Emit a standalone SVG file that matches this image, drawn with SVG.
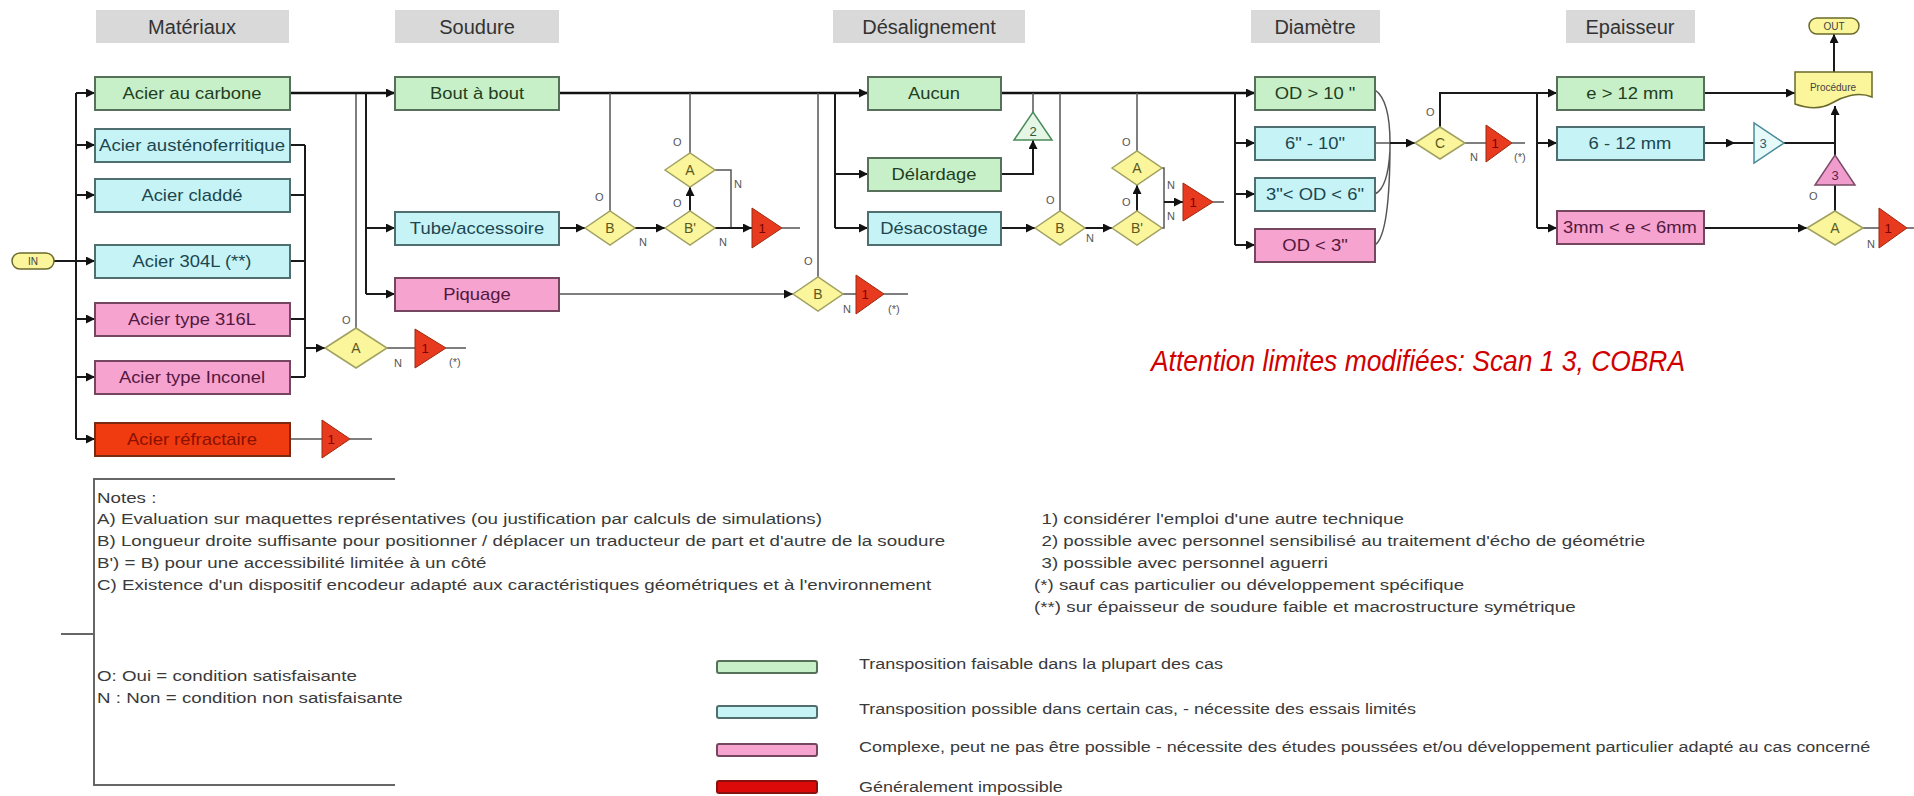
<svg xmlns="http://www.w3.org/2000/svg" width="1914" height="796" viewBox="0 0 1914 796">
<defs>
<marker id="arr" viewBox="0 0 10 10" refX="10" refY="5" markerWidth="9" markerHeight="9" markerUnits="userSpaceOnUse" orient="auto"><path d="M0,0 L10,5 L0,10 z" fill="#111"/></marker>
<style>
text{font-family:"Liberation Sans",Arial,sans-serif;}
.hdr{fill:#d9d9d9;}
.ht{font-size:20px;fill:#333;text-anchor:middle;}
.g{fill:#c8f0c8;stroke:#56705a;stroke-width:2;}
.c{fill:#c6f4f6;stroke:#4f6e70;stroke-width:2;}
.p{fill:#f7a3cf;stroke:#74465f;stroke-width:2;}
.r{fill:#f03a10;stroke:#7a2a10;stroke-width:2;}
.bt{font-size:16px;text-anchor:middle;}
.gt{fill:#223e22;}.ct{fill:#1c4650;}.pt{fill:#521840;}.rt{fill:#8a1000;}
.d{fill:#fbf59c;stroke:#a0a060;stroke-width:1.5;}
.dt{font-size:14px;fill:#5a5a20;text-anchor:middle;}
.rtri{fill:#e83a1e;stroke:#9a2a10;stroke-width:1;}
.rtt{font-size:13px;fill:#7a0000;text-anchor:middle;}
.lbl{font-size:11px;fill:#555;}
.w{fill:none;stroke:#1a1a1a;stroke-width:2;}
.wt{fill:none;stroke:#111;stroke-width:2.6;}
.wl{fill:none;stroke:#555;stroke-width:1.5;}
.a{marker-end:url(#arr);}
.note{font-size:15px;fill:#3a3a3a;}
.term{fill:#fbf59c;stroke:#6a6a2a;stroke-width:1.5;}
</style>
</defs>
<rect width="1914" height="796" fill="#fff"/>

<g id="headers">
<rect class="hdr" x="96" y="10" width="193" height="33"/><text class="ht" x="192" y="34">Matériaux</text>
<rect class="hdr" x="395" y="10" width="164" height="33"/><text class="ht" x="477" y="34">Soudure</text>
<rect class="hdr" x="833" y="10" width="192" height="33"/><text class="ht" x="929" y="34">Désalignement</text>
<rect class="hdr" x="1251" y="10" width="129" height="33"/><text class="ht" x="1315" y="34">Diamètre</text>
<rect class="hdr" x="1566" y="10" width="129" height="33"/><text class="ht" x="1630" y="34">Epaisseur</text>
</g>

<g id="connectors">
<path class="w" d="M54,261 H76"/>
<path class="w" d="M76,93 V439"/>
<path class="w a" d="M76,93 H95"/><path class="w a" d="M76,145 H95"/><path class="w a" d="M76,195 H95"/><path class="w a" d="M76,261 H95"/><path class="w a" d="M76,319 H95"/><path class="w a" d="M76,377 H95"/><path class="w a" d="M76,439 H95"/>
<path class="w" d="M290,145 H305 M290,195 H305 M290,261 H305 M290,319 H305 M290,377 H305 M305,145 V377"/>
<path class="w a" d="M305,348 H325"/>
<path class="wl" d="M356,328 V93"/>
<path class="wl" d="M387,348 H415 M446,348 H466"/>
<path class="wl" d="M290,439 H322 M350,439 H372"/>
<path class="wt a" d="M290,93 H395"/>
<path class="w" d="M366,93 V294"/>
<path class="w a" d="M366,228 H395"/><path class="w a" d="M366,294 H395"/>
<path class="wt a" d="M559,93 H868"/>
<path class="w a" d="M559,228 H585"/>
<path class="wl" d="M610,211 V93"/>
<path class="w a" d="M635,228 H665"/>
<path class="w a" d="M690,211 V187"/>
<path class="wl" d="M690,153 V93"/>
<path class="wl" d="M715,170 H731 V228"/>
<path class="w a" d="M715,228 H752"/>
<path class="wl" d="M782,228 H800"/>
<path class="wl a" d="M559,294 H793"/>
<path class="wl" d="M818,277 V93"/>
<path class="wl" d="M843,294 H856 M884,294 H908"/>
<path class="w" d="M835,93 V228"/>
<path class="w a" d="M835,174 H868"/><path class="w a" d="M835,228 H868"/>
<path class="wt a" d="M1001,93 H1255"/>
<path class="wl" d="M1033,112 V93"/>
<path class="w a" d="M1001,174 H1033 V140"/>
<path class="w a" d="M1001,228 H1035"/>
<path class="wl" d="M1060,211 V93"/>
<path class="w a" d="M1085,228 H1112"/>
<path class="w a" d="M1137,211 V185"/>
<path class="wl" d="M1137,151 V93"/>
<path class="wl" d="M1162,168 H1164 V228 H1162"/>
<path class="w a" d="M1164,202 H1183"/>
<path class="wl" d="M1213,202 H1224"/>
<path class="w" d="M1235,93 V245"/>
<path class="w a" d="M1235,143 H1255"/><path class="w a" d="M1235,194 H1255"/><path class="w a" d="M1235,245 H1255"/>
<path class="wl" d="M1375,90 Q1390,100 1390,143 M1375,245 Q1390,235 1390,143 M1375,194 Q1388,188 1390,150 M1375,143 H1390"/>
<path class="w a" d="M1390,143 H1415"/>
<path class="w" d="M1440,128 V93 H1537"/>
<path class="w a" d="M1537,93 H1557"/>
<path class="wl" d="M1465,143 H1486 M1512,143 H1525"/>
<path class="w" d="M1537,93 V228"/>
<path class="w a" d="M1537,143 H1557"/><path class="w a" d="M1537,228 H1557"/>
<path class="w a" d="M1704,93 H1795"/>
<path class="w a" d="M1704,143 H1735"/>
<path class="w" d="M1735,143 H1754"/>
<path class="w a" d="M1784,143 H1835 V106"/>
<path class="w a" d="M1704,228 H1807"/>
<path class="w" d="M1835,211 V185 M1835,155 V143"/>
<path class="wl" d="M1863,228 H1879 M1907,228 H1914"/>
<path class="w a" d="M1834,72 V34"/>
</g>

<g id="IN"><rect class="term" x="12" y="253" width="42" height="16" rx="8"/><text x="33" y="265" font-size="10" fill="#444" text-anchor="middle">IN</text></g>

<g id="mat-carbone"><rect class="g" x="95" y="77" width="195" height="33"/><text class="bt gt" transform="translate(192 99) scale(1.15 1)">Acier au carbone</text></g>
<g id="mat-austeno"><rect class="c" x="95" y="129" width="195" height="33"/><text class="bt ct" x="192" y="151" textLength="186" lengthAdjust="spacingAndGlyphs">Acier austénoferritique</text></g>
<g id="mat-cladde"><rect class="c" x="95" y="179" width="195" height="33"/><text class="bt ct" transform="translate(192 201) scale(1.15 1)">Acier claddé</text></g>
<g id="mat-304"><rect class="c" x="95" y="245" width="195" height="33"/><text class="bt ct" transform="translate(192 267) scale(1.15 1)">Acier 304L (**)</text></g>
<g id="mat-316"><rect class="p" x="95" y="303" width="195" height="33"/><text class="bt pt" transform="translate(192 325) scale(1.15 1)">Acier type 316L</text></g>
<g id="mat-inconel"><rect class="p" x="95" y="361" width="195" height="33"/><text class="bt pt" transform="translate(192 383) scale(1.15 1)">Acier type Inconel</text></g>
<g id="mat-refract"><rect class="r" x="95" y="423" width="195" height="33"/><text class="bt rt" transform="translate(192 445) scale(1.15 1)">Acier réfractaire</text></g>

<g id="dA1"><polygon class="d" points="325,348 356,328 387,348 356,368"/><text class="dt" x="356" y="353">A</text><text class="lbl" x="342" y="324">O</text><text class="lbl" x="394" y="367">N</text></g>
<g id="t1a"><polygon class="rtri" points="415,329 415,368 446,348"/><text class="rtt" x="425" y="353">1</text><text class="lbl" x="449" y="366">(*)</text></g>
<g id="t1b"><polygon class="rtri" points="322,420 322,458 350,439"/><text class="rtt" x="331" y="444">1</text></g>

<g id="s-bout"><rect class="g" x="395" y="77" width="164" height="33"/><text class="bt gt" transform="translate(477 99) scale(1.15 1)">Bout à bout</text></g>
<g id="s-tube"><rect class="c" x="395" y="212" width="164" height="33"/><text class="bt ct" transform="translate(477 234) scale(1.15 1)">Tube/accessoire</text></g>
<g id="s-piquage"><rect class="p" x="395" y="278" width="164" height="33"/><text class="bt pt" transform="translate(477 300) scale(1.15 1)">Piquage</text></g>

<g id="dB1"><polygon class="d" points="585,228 610,211 635,228 610,245"/><text class="dt" x="610" y="233">B</text><text class="lbl" x="595" y="201">O</text><text class="lbl" x="639" y="246">N</text></g>
<g id="dB1p"><polygon class="d" points="665,228 690,211 715,228 690,245"/><text class="dt" x="690" y="233">B'</text><text class="lbl" x="673" y="207">O</text><text class="lbl" x="719" y="246">N</text></g>
<g id="dA2"><polygon class="d" points="665,170 690,153 715,170 690,187"/><text class="dt" x="690" y="175">A</text><text class="lbl" x="673" y="146">O</text><text class="lbl" x="734" y="188">N</text></g>
<g id="t1c"><polygon class="rtri" points="752,208 752,248 782,228"/><text class="rtt" x="762" y="233">1</text></g>
<g id="dB3"><polygon class="d" points="793,294 818,277 843,294 818,311"/><text class="dt" x="818" y="299">B</text><text class="lbl" x="804" y="265">O</text><text class="lbl" x="843" y="313">N</text></g>
<g id="t1d"><polygon class="rtri" points="856,275 856,314 884,294"/><text class="rtt" x="865" y="299">1</text><text class="lbl" x="888" y="313">(*)</text></g>

<g id="d-aucun"><rect class="g" x="868" y="77" width="133" height="33"/><text class="bt gt" transform="translate(934 99) scale(1.15 1)">Aucun</text></g>
<g id="d-delard"><rect class="g" x="868" y="158" width="133" height="33"/><text class="bt gt" transform="translate(934 180) scale(1.15 1)">Délardage</text></g>
<g id="d-desac"><rect class="c" x="868" y="212" width="133" height="33"/><text class="bt ct" transform="translate(934 234) scale(1.15 1)">Désacostage</text></g>
<g id="t2"><polygon points="1014,140 1052,140 1033,112" fill="#e6f6e6" stroke="#4a8a5a" stroke-width="1.5"/><text x="1033" y="136" font-size="13" fill="#2a5a3a" text-anchor="middle">2</text></g>
<g id="dB4"><polygon class="d" points="1035,228 1060,211 1085,228 1060,245"/><text class="dt" x="1060" y="233">B</text><text class="lbl" x="1046" y="204">O</text><text class="lbl" x="1086" y="242">N</text></g>
<g id="dB4p"><polygon class="d" points="1112,228 1137,211 1162,228 1137,245"/><text class="dt" x="1137" y="233">B'</text><text class="lbl" x="1122" y="206">O</text><text class="lbl" x="1167" y="220">N</text></g>
<g id="dA4"><polygon class="d" points="1112,168 1137,151 1162,168 1137,185"/><text class="dt" x="1137" y="173">A</text><text class="lbl" x="1122" y="146">O</text><text class="lbl" x="1167" y="189">N</text></g>
<g id="t1e"><polygon class="rtri" points="1183,183 1183,221 1213,202"/><text class="rtt" x="1193" y="207">1</text></g>

<g id="od1"><rect class="g" x="1255" y="77" width="120" height="33"/><text class="bt gt" transform="translate(1315 99) scale(1.15 1)">OD &gt; 10 "</text></g>
<g id="od2"><rect class="c" x="1255" y="127" width="120" height="33"/><text class="bt ct" transform="translate(1315 149) scale(1.15 1)">6" - 10"</text></g>
<g id="od3"><rect class="c" x="1255" y="178" width="120" height="33"/><text class="bt ct" transform="translate(1315 200) scale(1.15 1)">3"&lt; OD &lt; 6"</text></g>
<g id="od4"><rect class="p" x="1255" y="229" width="120" height="33"/><text class="bt pt" transform="translate(1315 251) scale(1.15 1)">OD  &lt; 3"</text></g>

<g id="dC"><polygon class="d" points="1415,143 1440,127 1465,143 1440,159"/><text class="dt" x="1440" y="148">C</text><text class="lbl" x="1426" y="116">O</text><text class="lbl" x="1470" y="161">N</text></g>
<g id="t1f"><polygon class="rtri" points="1486,125 1486,162 1512,143"/><text class="rtt" x="1495" y="148">1</text><text class="lbl" x="1514" y="161">(*)</text></g>

<g id="e1"><rect class="g" x="1557" y="77" width="147" height="33"/><text class="bt gt" transform="translate(1630 99) scale(1.15 1)">e &gt; 12 mm</text></g>
<g id="e2"><rect class="c" x="1557" y="127" width="147" height="33"/><text class="bt ct" transform="translate(1630 149) scale(1.15 1)">6 - 12 mm</text></g>
<g id="e3"><rect class="p" x="1557" y="211" width="147" height="33"/><text class="bt pt" transform="translate(1630 233) scale(1.15 1)">3mm &lt; e &lt; 6mm</text></g>
<g id="t3c"><polygon points="1754,123 1754,163 1784,143" fill="#e6fafa" stroke="#4a8a9a" stroke-width="1.5"/><text x="1763" y="148" font-size="13" fill="#2a5a6a" text-anchor="middle">3</text></g>
<g id="dA5"><polygon class="d" points="1807,228 1835,211 1863,228 1835,245"/><text class="dt" x="1835" y="233">A</text><text class="lbl" x="1809" y="200">O</text><text class="lbl" x="1867" y="248">N</text></g>
<g id="t3p"><polygon points="1815,185 1855,185 1835,155" fill="#f09ccc" stroke="#7a4a66" stroke-width="1.5"/><text x="1835" y="180" font-size="13" fill="#5c1e4a" text-anchor="middle">3</text></g>
<g id="t1g"><polygon class="rtri" points="1879,208 1879,248 1907,228"/><text class="rtt" x="1888" y="233">1</text></g>
<g id="proc"><path d="M1795,72 H1872 V97 C1858,91 1842,97 1832,103 C1820,110 1806,108 1795,104 Z" fill="#fbf59c" stroke="#6a6a2a" stroke-width="1.5"/><text x="1833" y="91" font-size="10" fill="#444" text-anchor="middle">Procédure</text></g>
<g id="OUT"><rect class="term" x="1809" y="18" width="50" height="16" rx="8"/><text x="1834" y="30" font-size="10" fill="#444" text-anchor="middle">OUT</text></g>

<text x="1151" y="371" font-size="30" font-style="italic" fill="#d00000" textLength="534" lengthAdjust="spacingAndGlyphs">Attention limites modifiées: Scan 1 3, COBRA</text>

<g id="notes">
<path d="M395,479 H94 V785 H395 M61,634 H94" fill="none" stroke="#666" stroke-width="2"/>
<g transform="translate(97 0) scale(1.25 1)">
<text class="note" x="0" y="503">Notes :</text>
<text class="note" x="0" y="524">A) Evaluation sur maquettes représentatives (ou justification par calculs de simulations)</text>
<text class="note" x="0" y="546">B) Longueur droite suffisante pour positionner / déplacer  un traducteur de part et d'autre de la soudure</text>
<text class="note" x="0" y="568">B') = B) pour une accessibilité limitée à un côté</text>
<text class="note" x="0" y="590">C) Existence d'un dispositif encodeur adapté aux caractéristiques géométriques et à l'environnement</text>
<text class="note" x="0" y="681">O: Oui = condition satisfaisante</text>
<text class="note" x="0" y="703">N : Non = condition non satisfaisante</text>
</g>
<g transform="translate(1034 0) scale(1.25 1)">
<text class="note" x="6" y="524">1)  considérer l'emploi d'une autre technique</text>
<text class="note" x="6" y="546">2)  possible avec personnel sensibilisé au traitement d'écho de géométrie</text>
<text class="note" x="6" y="568">3)  possible avec personnel aguerri</text>
<text class="note" x="0" y="590">(*)  sauf cas particulier ou  développement spécifique</text>
<text class="note" x="0" y="612">(**) sur épaisseur de soudure faible et macrostructure symétrique</text>
</g>
</g>

<g id="legend">
<rect class="g" x="717" y="661" width="100" height="12" rx="2"/>
<rect class="c" x="717" y="706" width="100" height="12" rx="2"/>
<rect class="p" x="717" y="744" width="100" height="12" rx="2"/>
<rect x="717" y="781" width="100" height="12" rx="2" fill="#dd0a0a" stroke="#8a1010" stroke-width="2"/>
<g transform="translate(859 0) scale(1.2 1)">
<text class="note" x="0" y="669">Transposition faisable dans la plupart des cas</text>
<text class="note" x="0" y="714">Transposition possible  dans certain cas, - nécessite des essais limités</text>
<text class="note" x="0" y="752">Complexe, peut ne pas être possible - nécessite des études poussées  et/ou développement particulier adapté au cas concerné</text>
<text class="note" x="0" y="792">Généralement impossible</text>
</g>
</g>
</svg>
